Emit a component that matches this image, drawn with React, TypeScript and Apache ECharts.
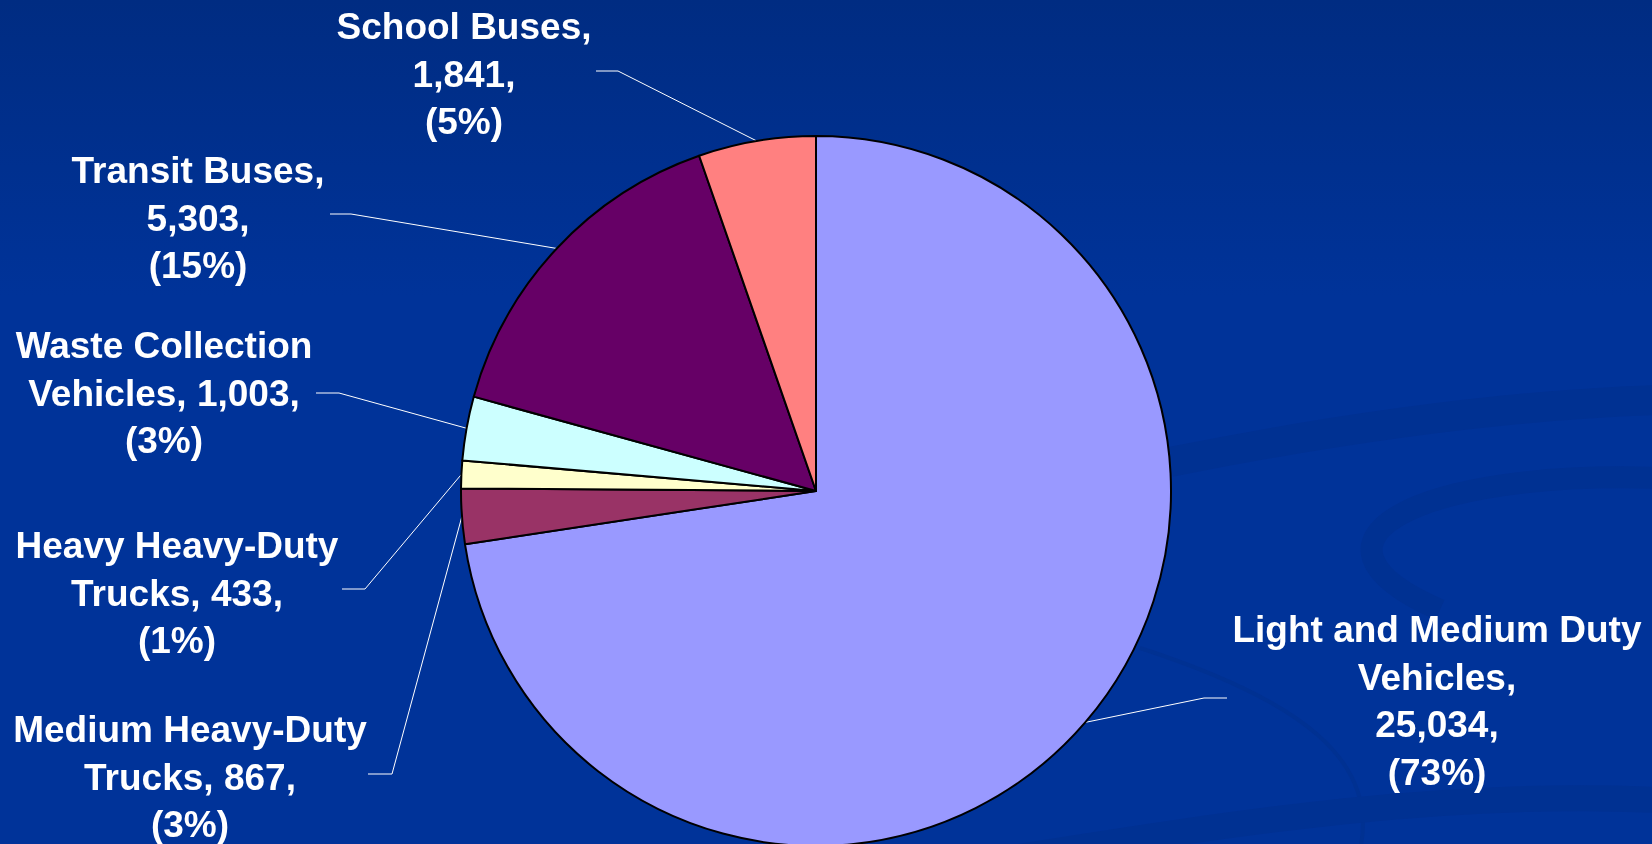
import React, { useEffect, useRef } from "react";
import * as echarts from "echarts";

// ---- data ----
const categories = [
  "Light and Medium Duty Vehicles",
  "Medium Heavy-Duty Trucks",
  "Heavy Heavy-Duty Trucks",
  "Waste Collection Vehicles",
  "Transit Buses",
  "School Buses",
];
const vehicleCounts = [25034, 867, 433, 1003, 5303, 1841];
const sliceColors = ["#9999FF", "#993366", "#FFFFCC", "#CCFFFF", "#660066", "#FF8080"];
// how many words go on each line of each label
const labelWordsPerLine = [
  [4, 1, 1, 1],
  [2, 2, 1],
  [2, 2, 1],
  [2, 2, 1],
  [2, 1, 1],
  [2, 1, 1],
];
// label placement: [centerX, centerY, elbowX, endX, lineY]
const labelPlacement = [
  [1437, 701, 1204, 1227, 698],
  [190, 777, 392, 368, 774],
  [177, 593, 365, 342, 589],
  [164, 393, 339, 316, 393],
  [198, 218, 351, 330, 214],
  [464, 74, 618, 596, 71],
];

function formatLabel(p: any): string {
  const words = `${p.name}, ${Number(p.value).toLocaleString("en-US")}, (${Math.round(p.percent)}%)`.split(" ");
  const counts = labelWordsPerLine[p.dataIndex];
  const lines: string[] = [];
  let k = 0;
  for (const c of counts) {
    lines.push(words.slice(k, k + c).join(" "));
    k += c;
  }
  if (k < words.length) lines.push(words.slice(k).join(" "));
  return lines.join("\n");
}

const swirlColor = "#003192";

export default function App() {
  const ref = useRef<HTMLDivElement>(null);
  useEffect(() => {
    if (!ref.current) return;
    const chart = echarts.init(ref.current, undefined, { renderer: "svg" });
    chart.setOption({
      animation: false,
      graphic: [
        {
          type: "rect",
          z: 0,
          silent: true,
          shape: { x: 0, y: 0, width: 1652, height: 844 },
          style: {
            fill: new echarts.graphic.LinearGradient(0, 0, 0, 1, [
              { offset: 0, color: "#002C82" },
              { offset: 0.35, color: "#003399" },
              { offset: 1, color: "#003399" },
            ]),
          },
        },
        {
          type: "bezierCurve",
          z: 1,
          silent: true,
          shape: { x1: 1170, y1: 462, cpx1: 1330, cpy1: 430, cpx2: 1500, cpy2: 405, x2: 1660, y2: 400 },
          style: { stroke: swirlColor, lineWidth: 30, fill: "none" },
        },
        {
          type: "bezierCurve",
          z: 1,
          silent: true,
          shape: { x1: 1660, y1: 478, cpx1: 1420, cpy1: 470, cpx2: 1280, cpy2: 540, x2: 1440, y2: 610 },
          style: { stroke: swirlColor, lineWidth: 22, fill: "none" },
        },
        {
          type: "bezierCurve",
          z: 1,
          silent: true,
          shape: { x1: 1140, y1: 648, cpx1: 1300, cpy1: 700, cpx2: 1380, cpy2: 760, x2: 1360, y2: 850 },
          style: { stroke: swirlColor, lineWidth: 4, fill: "none" },
        },
        {
          type: "bezierCurve",
          z: 1,
          silent: true,
          shape: { x1: 1000, y1: 860, cpx1: 1250, cpy1: 820, cpx2: 1450, cpy2: 790, x2: 1660, y2: 800 },
          style: { stroke: swirlColor, lineWidth: 26, fill: "none" },
        },
      ],
      series: [
        {
          type: "pie",
          z: 5,
          center: [816, 491],
          radius: 355,
          startAngle: 90,
          clockwise: true,
          avoidLabelOverlap: false,
          percentPrecision: 0,
          emphasis: { disabled: true },
          itemStyle: { borderColor: "#000000", borderWidth: 2 },
          label: {
            show: true,
            position: "outside",
            color: "#FFFFFF",
            fontFamily: '"Liberation Sans", Arial, sans-serif',
            fontWeight: "bold",
            fontSize: 37,
            lineHeight: 47.5,
            align: "center",
            formatter: formatLabel,
          },
          labelLine: {
            show: true,
            length: 6,
            length2: 6,
            smooth: false,
            lineStyle: { color: "#FFFFFF", width: 1 },
          },
          labelLayout: (params: any) => {
            const pl = labelPlacement[params.dataIndex];
            const res: any = { x: pl[0], y: pl[1], align: "center", verticalAlign: "middle" };
            if (params.labelLinePoints && params.labelLinePoints[0]) {
              res.labelLinePoints = [params.labelLinePoints[0], [pl[2], pl[4]], [pl[3], pl[4]]];
            }
            return res;
          },
          data: categories.map((name, i) => ({
            name,
            value: vehicleCounts[i],
            itemStyle: { color: sliceColors[i] },
          })),
        },
      ],
    });
    return () => chart.dispose();
  }, []);
  return (
    <div
      ref={ref}
      style={{ position: "fixed", left: 0, top: 0, width: 1652, height: 844 }}
    />
  );
}
